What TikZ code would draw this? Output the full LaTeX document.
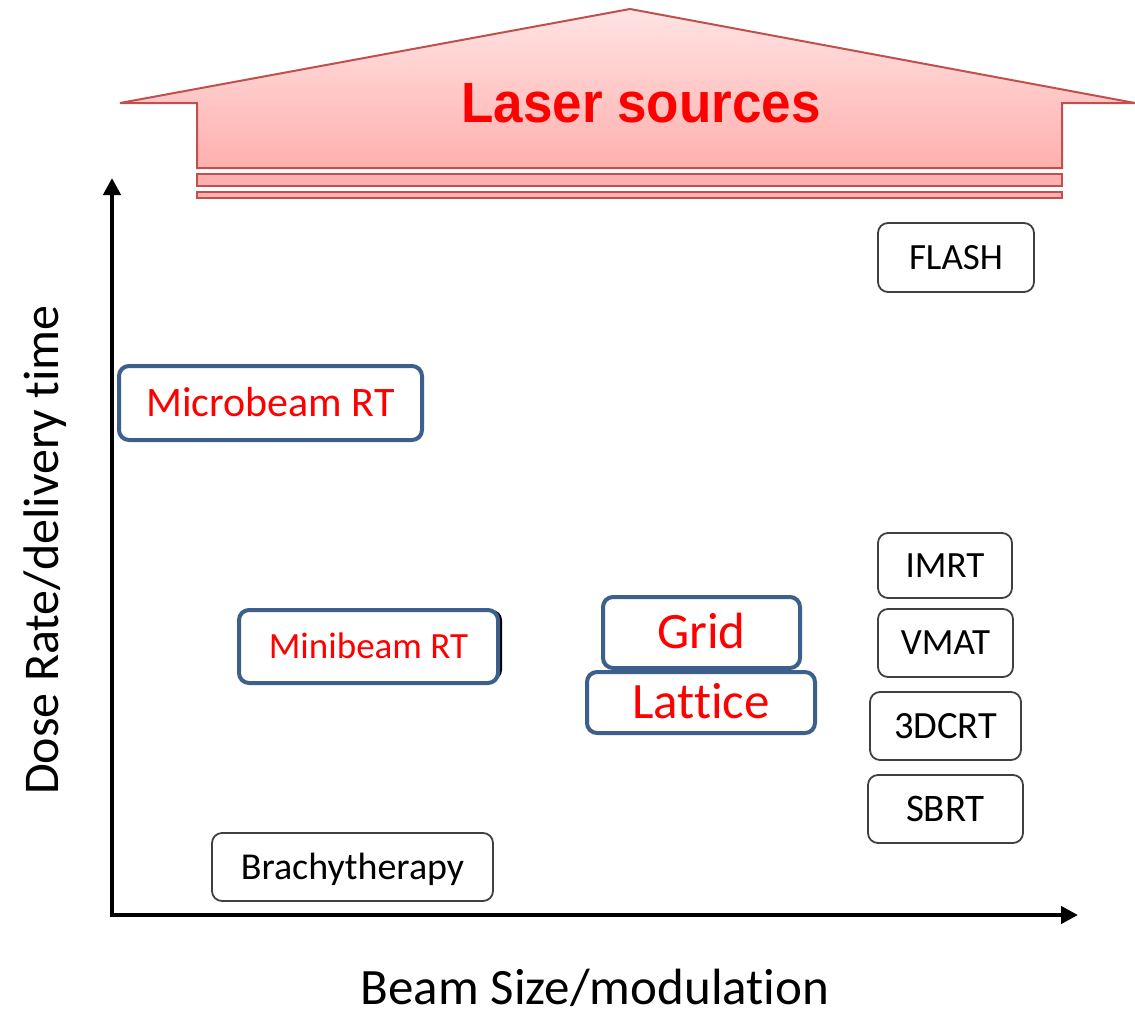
\documentclass[tikz,border=0pt]{standalone}
\usepackage{fontspec}
\setmainfont[Ligatures=NoCommon]{Carlito}
\newfontfamily\arialfont{Liberation Sans}
\usetikzlibrary{arrows.meta}
\definecolor{boxblue}{HTML}{3D5F8C}
\definecolor{boxgray}{HTML}{404040}
\definecolor{arrowline}{HTML}{C0504D}
\definecolor{pinktop}{HTML}{FFE3E3}
\definecolor{pinkbot}{HTML}{FFB0AE}
\tikzset{
  fs/.style={font=\fontsize{#1}{#1}\selectfont, text height=0.644*#1pt, text depth=0pt},
  basebox/.style={rounded corners=10pt, inner sep=0pt, align=center},
  graybox/.style={basebox, draw=boxgray, line width=1.8pt, fill=white, text=black},
  bluebox/.style={basebox, draw=boxblue, line width=4pt, fill=white, text=red},
  axis/.style={line width=4.5pt, -{Triangle[length=17pt,width=17pt]}},
  laser/.style={draw=arrowline, line width=2pt}
}
\begin{document}
\begin{tikzpicture}[x=1pt,y=-1pt]
\useasboundingbox (0,0) rectangle (1135,1012);
% laser arrow
\path[laser, top color=pinktop, bottom color=pinkbot]
  (630,9) -- (1135,103) -- (1062,103) -- (1062,168) -- (197,168) -- (197,103) -- (120,103) -- cycle;
\path[laser, fill=pinkbot] (197,174) rectangle (1062,186);
\path[laser, fill=pinkbot] (197,192) rectangle (1062,198);
\node[font=\arialfont\bfseries\fontsize{53}{60}\selectfont, text height=0.716*53pt, text depth=0pt, yscale=1.07, text=red, inner sep=0pt] (laser) at (641,102) {Laser sources};
% axes
\coordinate (ytop) at (112,178);
\coordinate (xend) at (1078,915);
\draw[axis] (112,917) -- (ytop);
\draw[axis] (110,915) -- (xend);
\node[rotate=90, fs=50, inner sep=0pt] (ylab) at (42,550) {Dose Rate/delivery time};
\node[fs=51, inner sep=0pt] (xlab) at (595,988) {Beam Size/modulation};
% boxes
\node[graybox, fs=37, minimum width=156pt, minimum height=69pt] (flash) at (956,257.5) {FLASH};
\node[bluebox, fs=42, minimum width=303pt, minimum height=74pt] (micro) at (270.5,403) {Microbeam RT};
\node[rounded corners=10pt, fill=black, minimum width=259pt, minimum height=70pt] (minishadow) at (372.5,645) {};
\node[bluebox, fs=37, minimum width=259pt, minimum height=73pt] (mini) at (368.5,646.5) {Minibeam RT};
\node[bluebox, fs=51, minimum width=197pt, minimum height=71pt] (grid) at (701.5,632.5) {Grid};
\node[bluebox, fs=51, minimum width=228pt, minimum height=61pt] (lattice) at (701,702.5) {Lattice};
\node[graybox, fs=37, minimum width=134pt, minimum height=65pt] (imrt) at (945,565.5) {IMRT};
\node[graybox, fs=37, minimum width=135pt, minimum height=68pt] (vmat) at (945.5,643) {VMAT};
\node[graybox, fs=38.5, minimum width=151pt, minimum height=68pt] (dcrt) at (945.5,726) {3DCRT};
\node[graybox, fs=39, minimum width=155pt, minimum height=68pt] (sbrt) at (945.5,809) {SBRT};
\node[graybox, fs=38, minimum width=281pt, minimum height=68pt] (brachy) at (352.5,867) {Brachytherapy};
\end{tikzpicture}
\end{document}
